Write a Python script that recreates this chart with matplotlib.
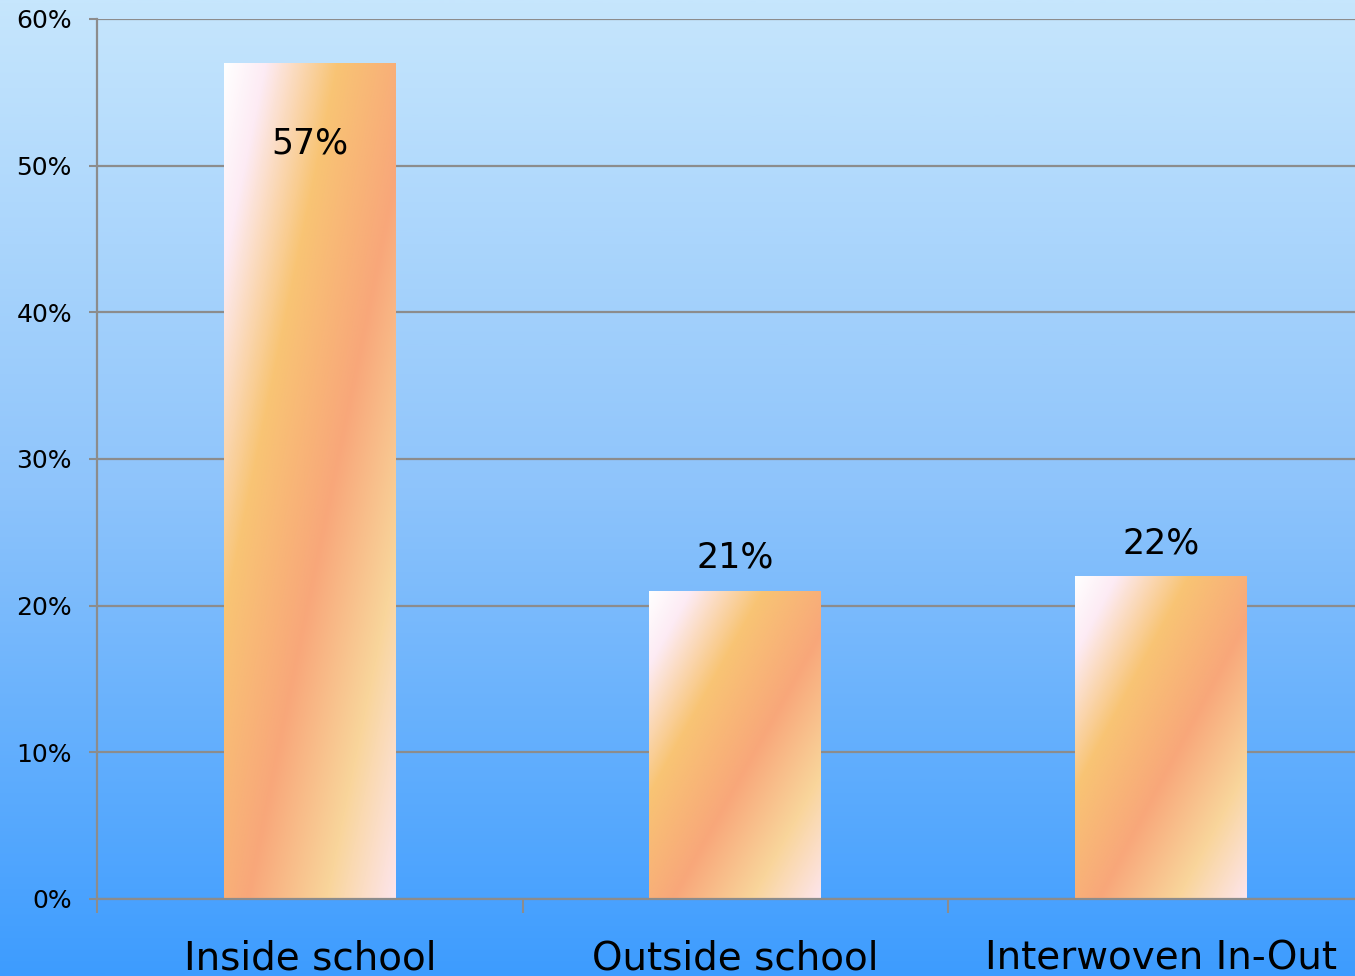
import numpy as np
import matplotlib
matplotlib.use('Agg')
import matplotlib.pyplot as plt
from matplotlib.colors import LinearSegmentedColormap
from matplotlib.ticker import PercentFormatter, FixedLocator

# chart data
categories = ['Inside school', 'Outside school', 'Interwoven In-Out']
values = [57, 21, 22]
yticks = [0, 10, 20, 30, 40, 50, 60]

GRID = '#8c8c8c'

fig = plt.figure(figsize=(13.55, 9.76), dpi=100)

# background: vertical blue gradient over the whole figure
bg = fig.add_axes([0, 0, 1, 1])
bgmap = LinearSegmentedColormap.from_list('bg', ['#c6e6fd', '#8ec4fb', '#3d9cff'])
grad = np.linspace(0, 1, 512)[:, None]
bg.imshow(grad, cmap=bgmap, aspect='auto', extent=[0, 1, 0, 1])
bg.set_axis_off()

ax = fig.add_axes([97/1355, 77/976, 1276.5/1355, 880/976])
ax.patch.set_alpha(0)

# diagonal gradient used inside every bar (top-left -> bottom-right of the bar box)
barmap = LinearSegmentedColormap.from_list('bar', [
    (0.0, '#ffffff'), (0.12, '#fdebf4'), (0.33, '#f8c474'),
    (0.57, '#f8a77a'), (0.80, '#f9d59b'), (1.0, '#fde5ec')])
u = np.linspace(0, 1, 200)[None, :]
v = np.linspace(0, 1, 400)[:, None]
t = (u + v) / 2.0

x = np.arange(len(categories))
width = 0.404
bars = ax.bar(x, values, width=width, color='none', edgecolor='none', zorder=2)
for b, val in zip(bars, values):
    x0 = b.get_x()
    ax.imshow(t, cmap=barmap, vmin=0, vmax=1, aspect='auto', origin='upper',
              extent=(x0, x0 + b.get_width(), 0, b.get_height()), zorder=2,
              interpolation='bilinear')
    # tallest bar gets its label inside the top, others above
    if val == max(values):
        ax.annotate('{}%'.format(val), (b.get_x() + b.get_width()/2, val),
                    xytext=(0, -58), textcoords='offset points',
                    ha='center', va='center', fontsize=25, color='black', zorder=3)
    else:
        ax.annotate('{}%'.format(val), (b.get_x() + b.get_width()/2, val),
                    xytext=(0, 24), textcoords='offset points',
                    ha='center', va='center', fontsize=25, color='black', zorder=3)

ax.set_xlim(-0.5, len(categories) - 0.5)
ax.set_ylim(0, 60)

ax.set_yticks(yticks)
ax.yaxis.set_major_formatter(PercentFormatter(decimals=0))
ax.yaxis.grid(True, color=GRID, linewidth=1.6, zorder=1)
ax.set_axisbelow(True)
ax.tick_params(axis='y', length=6, width=1.5, color=GRID, pad=12, labelsize=18)

ax.set_xticks(x)
ax.set_xticklabels(categories)
ax.xaxis.set_minor_locator(FixedLocator(np.arange(len(categories) + 1) - 0.5))
ax.tick_params(axis='x', which='major', length=0, pad=29, labelsize=28)
ax.tick_params(axis='x', which='minor', length=10, width=1.5, color=GRID)

for s in ['top', 'right']:
    ax.spines[s].set_visible(False)
for s in ['left', 'bottom']:
    ax.spines[s].set_color(GRID)
    ax.spines[s].set_linewidth(1.6)

fig.savefig('out.png', dpi=100)
